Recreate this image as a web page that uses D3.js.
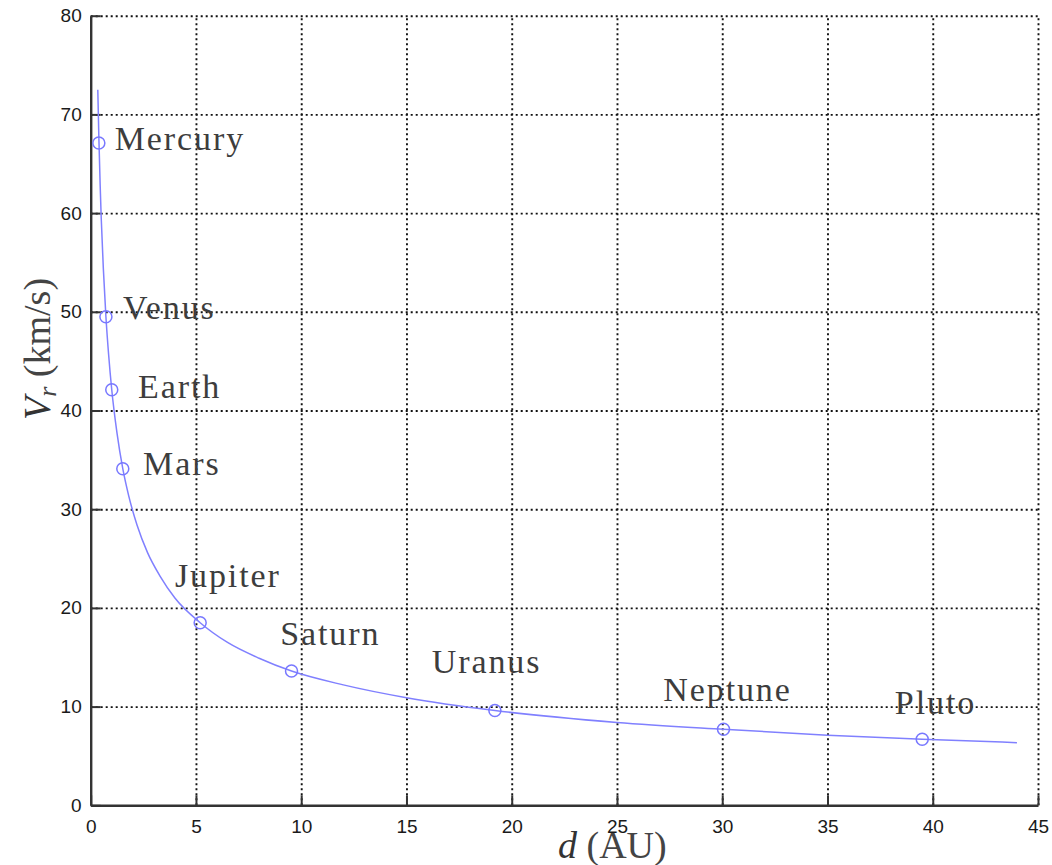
<!DOCTYPE html>
<html>
<head>
<meta charset="utf-8">
<script src="https://cdn.jsdelivr.net/npm/d3@7"></script>
<style>
  html, body { margin: 0; padding: 0; background: #fff; }
  svg { display: block; }
</style>
</head>
<body>
<svg id="chart" width="1052" height="865"></svg>
<script>
// ---- data ----
const planets = ["Mercury", "Venus", "Earth", "Mars", "Jupiter", "Saturn", "Uranus", "Neptune", "Pluto"];
const planetDist = [0.387, 0.723, 1.0, 1.524, 5.2, 9.54, 19.2, 30.06, 39.5];
const planetVel = [67.1, 49.5, 42.1, 34.1, 18.5, 13.6, 9.6, 7.7, 6.7];
// label anchor (data units, left/baseline)
const labelDist = [1.14, 1.54, 2.25, 2.49, 4.0, 9.0, 16.2, 27.2, 38.2];
const labelVel = [66.4, 49.3, 41.3, 33.5, 22.1, 16.2, 13.4, 10.6, 9.3];
// fitted curve
const curveDist = [0.337, 0.387, 0.45, 0.5, 0.6, 0.723, 0.85, 1.0, 1.25, 1.524, 1.8, 2.2, 2.7, 3.3, 4.0, 5.2, 6.5, 8, 9.54, 12, 15, 19.2, 25, 30.06, 35, 39.5, 44];
const curveVel = [72.5, 67.7, 62.8, 59.5, 54.4, 49.5, 45.7, 42.1, 37.7, 34.1, 31.4, 28.4, 25.6, 23.2, 21.0, 18.5, 16.5, 14.9, 13.6, 12.2, 10.9, 9.6, 8.4, 7.7, 7.1, 6.7, 6.35];
const xTicks = [0, 5, 10, 15, 20, 25, 30, 35, 40, 45];
const yTicks = [0, 10, 20, 30, 40, 50, 60, 70, 80];

// ---- layout ----
const svg = d3.select("#chart");
const x = d3.scaleLinear().domain([0, 45]).range([90.7, 1038]);
const y = d3.scaleLinear().domain([0, 80]).range([805.3, 15.7]);
const x0 = x(0), x1 = x(45), y0 = y(0), y1 = y(80);

const gridColor = "#111";
const dash = "2,3";

// grid (vertical)
const gx = svg.append("g").attr("transform", `translate(0,${y0})`)
  .call(d3.axisBottom(x).tickValues(xTicks.filter(v => v > 0)).tickSize(-(y0 - y1)).tickFormat(""));
gx.select(".domain").remove();
gx.selectAll("line").attr("stroke", gridColor).attr("stroke-width", 1.9).attr("stroke-dasharray", dash);

// grid (horizontal)
const gy = svg.append("g").attr("transform", `translate(${x0},0)`)
  .call(d3.axisLeft(y).tickValues(yTicks.filter(v => v > 0)).tickSize(-(x1 - x0)).tickFormat(""));
gy.select(".domain").remove();
gy.selectAll("line").attr("stroke", gridColor).attr("stroke-width", 1.9).attr("stroke-dasharray", dash);

// axes
const ax = svg.append("g").attr("transform", `translate(0,${y0})`)
  .call(d3.axisBottom(x).tickValues(xTicks).tickSizeInner(-10).tickSizeOuter(0).tickPadding(14));
ax.select(".domain").attr("stroke", "#333").attr("stroke-width", 2.4);
ax.selectAll("line").attr("stroke", "#333").attr("stroke-width", 2);
ax.selectAll("text").attr("font-family", "'Liberation Sans', Arial, sans-serif").attr("font-size", 19).attr("fill", "#1a1a1a");

const ay = svg.append("g").attr("transform", `translate(${x0},0)`)
  .call(d3.axisLeft(y).tickValues(yTicks).tickSizeInner(-10).tickSizeOuter(0).tickPadding(9));
ay.select(".domain").attr("stroke", "#333").attr("stroke-width", 2.4);
ay.selectAll("line").attr("stroke", "#333").attr("stroke-width", 2);
ay.selectAll("text").attr("font-family", "'Liberation Sans', Arial, sans-serif").attr("font-size", 19).attr("fill", "#1a1a1a");

// curve
const line = d3.line().x(d => x(d[0])).y(d => y(d[1])).curve(d3.curveMonotoneX);
svg.append("path")
  .datum(curveDist.map((d, i) => [d, curveVel[i]]))
  .attr("d", line)
  .attr("fill", "none")
  .attr("stroke", "#8080ff")
  .attr("stroke-width", 1.5);

// markers
svg.append("g").selectAll("circle")
  .data(planets)
  .join("circle")
  .attr("cx", (d, i) => x(planetDist[i]))
  .attr("cy", (d, i) => y(planetVel[i]))
  .attr("r", 6)
  .attr("fill", "none")
  .attr("stroke", "#7878ff")
  .attr("stroke-width", 1.5);

// labels
svg.append("g").selectAll("text")
  .data(planets)
  .join("text")
  .attr("x", (d, i) => x(labelDist[i]))
  .attr("y", (d, i) => y(labelVel[i]))
  .attr("font-family", "'Liberation Serif', 'Times New Roman', serif")
  .attr("font-size", 34)
  .attr("letter-spacing", 1.9)
  .attr("fill", "#3d3d3d")
  .text(d => d);

// axis titles
const xl = svg.append("text")
  .attr("x", 558).attr("y", 858)
  .attr("font-family", "'Liberation Serif', 'Times New Roman', serif")
  .attr("font-size", 38)
  .attr("fill", "#444");
xl.append("tspan").attr("font-style", "italic").attr("fill", "#333").text("d");
xl.append("tspan").text(" (AU)");

const yl = svg.append("text")
  .attr("transform", "translate(50,420) rotate(-90)")
  .attr("font-family", "'Liberation Serif', 'Times New Roman', serif")
  .attr("font-size", 38)
  .attr("fill", "#444");
yl.append("tspan").attr("font-style", "italic").attr("fill", "#333").text("V");
yl.append("tspan").attr("font-style", "italic").attr("font-size", 26).attr("dy", 6).text("r");
yl.append("tspan").attr("dy", -6).text(" (km/s)");
</script>
</body>
</html>
